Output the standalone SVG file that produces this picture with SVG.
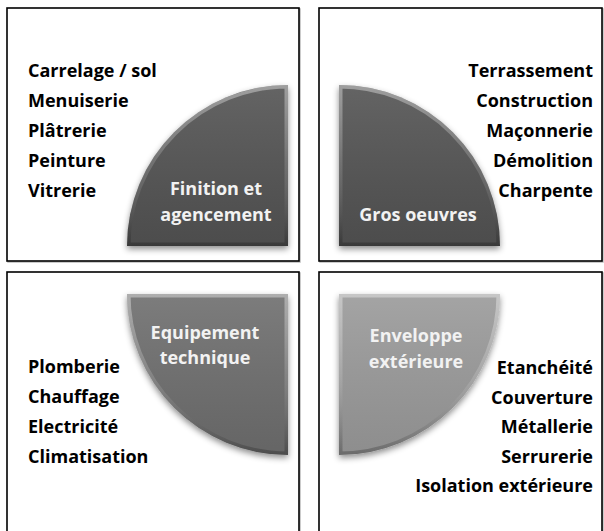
<svg xmlns="http://www.w3.org/2000/svg" width="604" height="531" viewBox="0 0 604 531">
<style>
.frame{fill:#fff;stroke:#000;stroke-width:1.6}
.fshadow{fill:none;stroke:#bbb;stroke-width:1.5}
.item{font-family:"Open Sans","Liberation Sans",sans-serif;font-weight:700;font-size:18px;fill:#000}
.lbl{font-family:"Open Sans","Liberation Sans",sans-serif;font-weight:700;font-size:18px;fill:#f2f2f2;text-anchor:middle}
.r{text-anchor:end}
.bevel{fill:none;stroke:url(#bev);stroke-width:7}
</style>
<defs>
<linearGradient id="bev" x1="0" y1="0" x2="0" y2="1">
<stop offset="0" stop-color="#fff" stop-opacity="0.38"/>
<stop offset="0.5" stop-color="#fff" stop-opacity="0.15"/>
<stop offset="1" stop-color="#000" stop-opacity="0.25"/>
</linearGradient>
<linearGradient id="sheen" x1="0" y1="0" x2="0" y2="1">
<stop offset="0" stop-color="#fff" stop-opacity="0.1"/>
<stop offset="1" stop-color="#000" stop-opacity="0.08"/>
</linearGradient>
<filter id="sh" x="-20%" y="-20%" width="140%" height="140%">
<feDropShadow dx="0" dy="3" stdDeviation="3" flood-color="#000" flood-opacity="0.45"/>
</filter>
<clipPath id="c1"><path d="M127,246 A161 161 0 0 1 288,85 L288,246 Z"/></clipPath>
<clipPath id="c2"><path d="M339,85 A161 161 0 0 1 500,246 L339,246 Z"/></clipPath>
<clipPath id="c3"><path d="M127,294 A161 161 0 0 0 288,455 L288,294 Z"/></clipPath>
<clipPath id="c4"><path d="M500,294 A161 161 0 0 1 339,455 L339,294 Z"/></clipPath>
</defs>

<g id="finition">
<rect class="fshadow" x="8" y="9" width="292" height="253"/>
<rect class="frame" x="7" y="8" width="292" height="253"/>
<path d="M127,246 A161 161 0 0 1 288,85 L288,246 Z" fill="#525252" filter="url(#sh)"/>
<path d="M127,246 A161 161 0 0 1 288,85 L288,246 Z" fill="url(#sheen)"/>
<path class="bevel" clip-path="url(#c1)" d="M127,246 A161 161 0 0 1 288,85 L288,246 Z"/>
<text class="item" x="28" y="76.5">Carrelage / sol</text>
<text class="item" x="28" y="106.5">Menuiserie</text>
<text class="item" x="28" y="136.5">Plâtrerie</text>
<text class="item" x="28" y="166.5">Peinture</text>
<text class="item" x="28" y="196.5">Vitrerie</text>
<text class="lbl" x="216" y="195">Finition et</text>
<text class="lbl" x="216" y="220.5">agencement</text>
</g>

<g id="gros-oeuvres">
<rect class="fshadow" x="320" y="9" width="283" height="253"/>
<rect class="frame" x="319" y="8" width="283" height="253"/>
<path d="M339,85 A161 161 0 0 1 500,246 L339,246 Z" fill="#525252" filter="url(#sh)"/>
<path d="M339,85 A161 161 0 0 1 500,246 L339,246 Z" fill="url(#sheen)"/>
<path class="bevel" clip-path="url(#c2)" d="M339,85 A161 161 0 0 1 500,246 L339,246 Z"/>
<text class="item r" x="593" y="76.5">Terrassement</text>
<text class="item r" x="593" y="106.5">Construction</text>
<text class="item r" x="593" y="136.5">Maçonnerie</text>
<text class="item r" x="593" y="166.5">Démolition</text>
<text class="item r" x="593" y="196.5">Charpente</text>
<text class="lbl" x="418" y="220.5">Gros oeuvres</text>
</g>

<g id="equipement">
<rect class="fshadow" x="8" y="273" width="292" height="270"/>
<rect class="frame" x="7" y="272" width="292" height="270"/>
<path d="M127,294 A161 161 0 0 0 288,455 L288,294 Z" fill="#6e6e6e" filter="url(#sh)"/>
<path d="M127,294 A161 161 0 0 0 288,455 L288,294 Z" fill="url(#sheen)"/>
<path class="bevel" clip-path="url(#c3)" d="M127,294 A161 161 0 0 0 288,455 L288,294 Z"/>
<text class="item" x="28" y="372.5">Plomberie</text>
<text class="item" x="28" y="402.5">Chauffage</text>
<text class="item" x="28" y="432.5">Electricité</text>
<text class="item" x="28" y="462.5">Climatisation</text>
<text class="lbl" x="205" y="338.5">Equipement</text>
<text class="lbl" x="205" y="364">technique</text>
</g>

<g id="enveloppe">
<rect class="fshadow" x="320" y="273" width="283" height="270"/>
<rect class="frame" x="319" y="272" width="283" height="270"/>
<path d="M500,294 A161 161 0 0 1 339,455 L339,294 Z" fill="#9a9a9a" filter="url(#sh)"/>
<path d="M500,294 A161 161 0 0 1 339,455 L339,294 Z" fill="url(#sheen)"/>
<path class="bevel" clip-path="url(#c4)" d="M500,294 A161 161 0 0 1 339,455 L339,294 Z"/>
<text class="item r" x="593" y="374">Etanchéité</text>
<text class="item r" x="593" y="403.5">Couverture</text>
<text class="item r" x="593" y="433">Métallerie</text>
<text class="item r" x="593" y="462.5">Serrurerie</text>
<text class="item r" x="593" y="492">Isolation extérieure</text>
<text class="lbl" x="416" y="342">Enveloppe</text>
<text class="lbl" x="416" y="367.5">extérieure</text>
</g>

<g id="connectors"></g>
</svg>
